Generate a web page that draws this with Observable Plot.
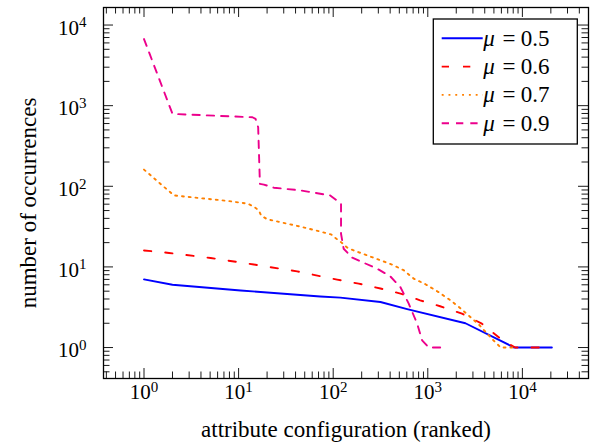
<!DOCTYPE html>
<html><head><meta charset="utf-8">
<script src="https://cdn.jsdelivr.net/npm/d3@7"></script>
<script src="https://cdn.jsdelivr.net/npm/@observablehq/plot@0.6"></script>
<style>
body{margin:0;background:#fff;}
#chart{position:relative;width:590px;height:442px;}
#chart svg, #chart svg text{font-family:'Liberation Serif',serif;}
</style></head><body><div id="chart"></div>
<script>
// ---- data ----
const rank05 = [1, 2, 10.5, 73, 119, 316, 605, 2500, 8200, 20500];
const occ05  = [7, 6, 5.1, 4.3, 4.16, 3.67, 3.0, 2.0, 1, 1];

const rank06 = [1, 1.84, 5.06, 14.5, 41.6, 110, 186, 316, 515, 830, 1350, 2300, 3730, 5840, 8400, 16100];
const occ06  = [16, 14.9, 12.9, 10.7, 8.8, 6.95, 6.2, 5.4, 4.67, 3.85, 3.25, 2.63, 1.98, 1.29, 1, 1];

const rank07 = [1, 2.07, 7.5, 12.4, 14.5, 16.4, 17.3, 20, 44, 70, 95, 110, 121, 141, 165, 229, 303, 418, 556, 710, 944, 1254, 1660, 2120, 2700, 3450, 4800, 5900, 8700];
const occ07  = [161, 77, 66, 61, 56, 50, 43.5, 39, 31.8, 27.8, 25.3, 22, 20.3, 17.3, 16, 13.9, 12.3, 10.7, 9.1, 7.15, 6.1, 5.0, 4.0, 3.2, 2.5, 1.94, 1.27, 1, 1];

const rank09 = [1, 2, 14, 15.1, 16.1, 16.8, 18.5, 23.6, 45, 93, 121, 121, 129, 159, 292, 403, 514, 629, 771, 871, 1023, 1600];
const occ09  = [6700, 790, 718, 686, 540, 107, 105, 96, 89, 77, 60.7, 25.8, 16.8, 13, 9.5, 7.6, 5.6, 3.5, 1.98, 1.23, 1, 1];

const muValues = ["0.5", "0.6", "0.7", "0.9"];
const xTicks = [1, 10, 100, 1000, 10000];
const yTicks = [1, 10, 100, 1000, 10000];
const xTitle = "attribute configuration (ranked)";
const yTitle = "number of occurrences";

// ---- styling ----
const colors  = ["#0000ff", "#ff0000", "#ff8000", "#ec008c"];
const dashes  = [null, "7.3,14", "1.9,4.9", "7.3,7"];
const xDomain = [0.373, 50000];
const yDomain = [0.413, 16500];
const W = 590, H = 442, mL = 103, mR = 2, mT = 7, mB = 64;
const plotW = W - mL - mR, plotH = H - mT - mB;
const font = "'Liberation Serif', serif";

const ranks = [rank05, rank06, rank07, rank09];
const occs = [occ05, occ06, occ07, occ09];
const table = [];
ranks.forEach((r, i) => r.forEach((x, j) => table.push({series: muValues[i], x, y: occs[i][j]})));

function minors(domain) {
  const out = [];
  for (let e = -1; e <= 4; e++) for (let m = 2; m <= 9; m++) {
    const v = m * Math.pow(10, e);
    if (v > domain[0] && v < domain[1]) out.push(v);
  }
  return out;
}
const xMinor = minors(xDomain), yMinor = minors(yDomain);

const tickStyle = {stroke: "#000", strokeWidth: 0.9};
const marks = [
  Plot.tickX(xTicks, {x: d => d, insetTop: plotH - 10, ...tickStyle}),
  Plot.tickX(xTicks, {x: d => d, insetBottom: plotH - 10, ...tickStyle}),
  Plot.tickX(xMinor, {x: d => d, insetTop: plotH - 6.5, ...tickStyle}),
  Plot.tickX(xMinor, {x: d => d, insetBottom: plotH - 6.5, ...tickStyle}),
  Plot.tickY(yTicks, {y: d => d, insetRight: plotW - 10, ...tickStyle}),
  Plot.tickY(yTicks, {y: d => d, insetLeft: plotW - 10, ...tickStyle}),
  Plot.tickY(yMinor, {y: d => d, insetRight: plotW - 6.5, ...tickStyle}),
  Plot.tickY(yMinor, {y: d => d, insetLeft: plotW - 6.5, ...tickStyle}),
];
muValues.forEach((mu, i) => {
  marks.push(Plot.line(table.filter(d => d.series === mu), {
    x: "x", y: "y", stroke: colors[i], strokeWidth: 1.9,
    strokeDasharray: dashes[i] || undefined, strokeLinejoin: "round"
  }));
});
marks.push(
  Plot.frame({stroke: "#000", strokeWidth: 1.3}),
  Plot.axisX(xTicks, {tickSize: 0, tickPadding: 6, label: null, fontSize: 21,
    tickFormat: d => String(Math.round(Math.log10(d)))}),
  Plot.axisY(yTicks, {tickSize: 0, tickPadding: 17, dy: 3, label: null, fontSize: 21,
    tickFormat: d => String(Math.round(Math.log10(d)))}),
  Plot.text([xTitle], {text: d => d, frameAnchor: "bottom", lineAnchor: "bottom", textAnchor: "middle",
    dy: 58, fontSize: 23}),
  Plot.text([yTitle], {text: d => d, frameAnchor: "left", lineAnchor: "bottom", textAnchor: "middle",
    rotate: -90, dx: -68, dy: 10, fontSize: 23})
);

const chart = Plot.plot({
  width: W, height: H,
  marginLeft: mL, marginRight: mR, marginTop: mT, marginBottom: mB,
  x: {type: "log", domain: xDomain},
  y: {type: "log", domain: yDomain},
  style: {fontFamily: font, fontSize: "21px", color: "#000", background: "#fff"},
  marks
});
document.getElementById("chart").appendChild(chart);

const svg = d3.select(chart);
svg.selectAll('g[aria-label="x-axis tick label"] text, g[aria-label="y-axis tick label"] text').each(function () {
  const exp = this.textContent;
  const t = d3.select(this);
  t.text(null);
  t.append("tspan").text("10");
  t.append("tspan").attr("dy", -7.5).attr("font-size", 15).text(exp);
});

// legend inside the plot (upper right)
const lg = svg.append("g").attr("font-size", 23);
lg.append("rect").attr("x", 433.3).attr("y", 19).attr("width", 144).attr("height", 125)
  .attr("fill", "#fff").attr("stroke", "#000").attr("stroke-width", 1.3);
muValues.forEach((mu, i) => {
  const y = 38.3 + 28.3 * i;
  const ln = lg.append("line").attr("x1", 441.7).attr("x2", 482.7).attr("y1", y).attr("y2", y)
    .attr("stroke", colors[i]).attr("stroke-width", 1.9);
  if (dashes[i]) ln.attr("stroke-dasharray", dashes[i]);
  const t = lg.append("text").attr("y", y + 7.4);
  t.append("tspan").attr("x", 489).attr("font-style", "italic").text("μ");
  t.append("tspan").attr("x", 509).text("=");
  t.append("tspan").attr("x", 535).text(mu);
});

// force the serif face on every text node
svg.selectAll("text, tspan").attr("font-family", "Liberation Serif").style("font-family", "'Liberation Serif'");
</script></body></html>
